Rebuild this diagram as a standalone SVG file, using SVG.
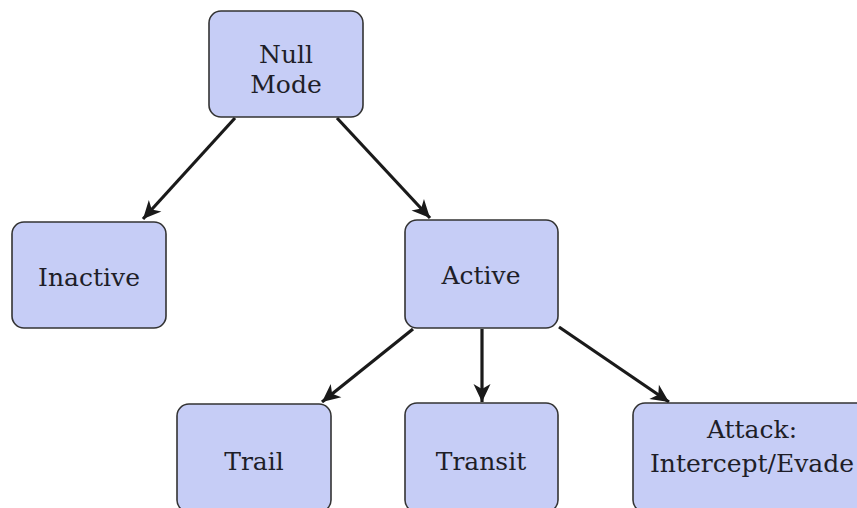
<svg xmlns="http://www.w3.org/2000/svg" width="857" height="508" viewBox="0 0 857 508">
  <style>
    .box { fill: #c6cdf6; stroke: #333; stroke-width: 1.6; }
    .lbl { font-family: "DejaVu Serif", "Liberation Serif", serif; font-size: 25px; fill: #1e1e28; text-anchor: middle; }
    .edge { stroke: #1a1a1a; stroke-width: 3.2; fill: none; }
  </style>
  <defs>
    <marker id="arrow" markerUnits="userSpaceOnUse" markerWidth="24" markerHeight="24" refX="19" refY="10" orient="auto">
      <path d="M19,10 L1,1.5 L6,10 L1,18.5 Z" fill="#1a1a1a"/>
    </marker>
  </defs>

  <rect width="857" height="508" fill="#ffffff"/>

  <g id="connectors">
    <line class="edge" x1="235" y1="118" x2="143" y2="219" marker-end="url(#arrow)"/>
    <line class="edge" x1="337" y1="118" x2="430" y2="218" marker-end="url(#arrow)"/>
    <line class="edge" x1="413" y1="329" x2="322" y2="402" marker-end="url(#arrow)"/>
    <line class="edge" x1="482" y1="329" x2="482" y2="402" marker-end="url(#arrow)"/>
    <line class="edge" x1="559" y1="327" x2="669" y2="402" marker-end="url(#arrow)"/>
  </g>

  <g id="null-mode">
    <rect class="box" x="209" y="11" width="154" height="106" rx="12"/>
    <text class="lbl" x="286" y="63">Null</text>
    <text class="lbl" x="286" y="93">Mode</text>
  </g>

  <g id="inactive">
    <rect class="box" x="12" y="222" width="154" height="106" rx="12"/>
    <text class="lbl" x="89" y="286">Inactive</text>
  </g>

  <g id="active">
    <rect class="box" x="405" y="220" width="153" height="108" rx="12"/>
    <text class="lbl" x="481" y="284">Active</text>
  </g>

  <g id="trail">
    <rect class="box" x="177" y="404" width="154" height="108" rx="12"/>
    <text class="lbl" x="254" y="470">Trail</text>
  </g>

  <g id="transit">
    <rect class="box" x="405" y="403" width="153" height="109" rx="12"/>
    <text class="lbl" x="481" y="470">Transit</text>
  </g>

  <g id="attack">
    <rect class="box" x="633" y="403" width="245" height="109" rx="12"/>
    <text class="lbl" x="752" y="438">Attack:</text>
    <text class="lbl" x="752" y="472">Intercept/Evade</text>
  </g>
</svg>
